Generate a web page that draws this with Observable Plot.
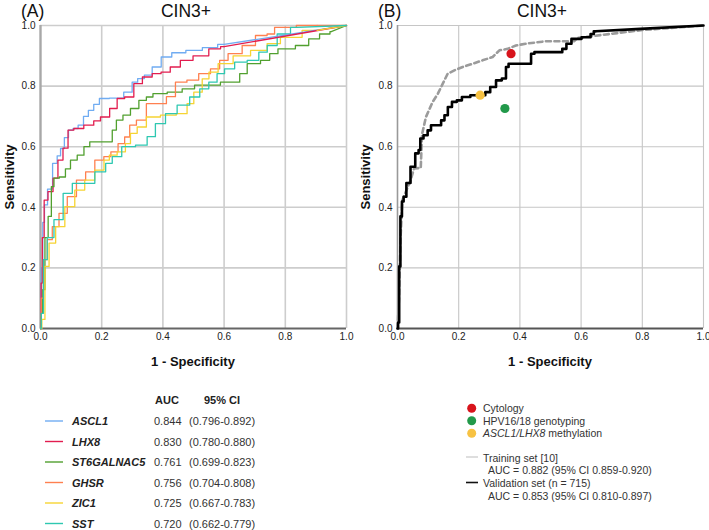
<!DOCTYPE html>
<html><head><meta charset="utf-8">
<script src="https://cdn.jsdelivr.net/npm/d3@7"></script>
<script src="https://cdn.jsdelivr.net/npm/@observablehq/plot@0.6"></script>
<style>
body{margin:0;background:#fff;}
#wrap{position:relative;width:709px;height:530px;overflow:hidden;background:#fff;font-family:"Liberation Sans",Arial,Helvetica,sans-serif;}
#wrap > .p{position:absolute;top:0;}
#ov{position:absolute;left:0;top:0;}
</style></head><body><div id="wrap"></div>
<script>
// ---------- Panel A data ----------
const markers = ["ASCL1","LHX8","ST6GALNAC5","GHSR","ZIC1","SST"];
const markerColors = ["#70acf2","#e21d4f","#51a02f","#ff8050","#f6d433","#2ec8b1"];
const aucValues = ["0.844","0.830","0.761","0.756","0.725","0.720"];
const ciValues = ["(0.796-0.892)","(0.780-0.880)","(0.699-0.823)","(0.704-0.808)","(0.667-0.783)","(0.662-0.779)"];

const ascl1X = [0,0.005,0.01,0.016,0.03,0.049,0.06,0.071,0.085,0.098,0.115,0.131,0.15,0.163,0.185,0.2,0.25,0.294,0.305,0.33,0.349,0.381,0.408,0.45,0.5,0.558,0.6];
const ascl1Y = [0,0.2,0.35,0.408,0.46,0.545,0.57,0.594,0.63,0.655,0.66,0.671,0.70,0.72,0.74,0.759,0.76,0.78,0.813,0.825,0.836,0.863,0.896,0.91,0.918,0.927,0.9375];
const lhx8X = [0,0.004,0.008,0.016,0.033,0.049,0.065,0.082,0.098,0.12,0.163,0.185,0.207,0.245,0.256,0.294,0.316,0.35,0.38,0.408,0.44,0.474,0.523,0.577,0.6];
const lhx8Y = [0,0.15,0.3,0.424,0.452,0.496,0.556,0.595,0.655,0.66,0.671,0.685,0.698,0.726,0.759,0.764,0.808,0.83,0.841,0.846,0.863,0.885,0.90,0.923,0.93];
const st6X = [0,0.005,0.009,0.02,0.03,0.041,0.047,0.076,0.087,0.109,0.131,0.153,0.169,0.229,0.24,0.256,0.283,0.305,0.338,0.354,0.381,0.447,0.479,0.528,0.648,0.654,0.697,0.741,0.757,0.795,0.871,0.882,0.942,0.95];
const st6Y = [0,0.05,0.128,0.30,0.37,0.468,0.496,0.50,0.527,0.556,0.572,0.60,0.616,0.616,0.655,0.688,0.704,0.726,0.753,0.764,0.775,0.78,0.791,0.803,0.813,0.841,0.874,0.885,0.907,0.923,0.934,0.956,0.972,0.98];
const ghsrX = [0,0.005,0.014,0.03,0.047,0.074,0.101,0.134,0.161,0.194,0.22,0.24,0.267,0.283,0.3,0.327,0.365,0.398,0.425,0.457,0.5,0.534,0.577,0.594,0.632,0.686,0.719,0.762,0.768,0.904];
const ghsrY = [0,0.1,0.227,0.293,0.336,0.38,0.435,0.49,0.517,0.556,0.567,0.583,0.61,0.632,0.671,0.688,0.742,0.742,0.765,0.813,0.82,0.841,0.857,0.885,0.907,0.934,0.967,0.972,0.994,1.0];
const zic1X = [0,0.009,0.02,0.036,0.063,0.096,0.128,0.161,0.194,0.221,0.229,0.272,0.283,0.305,0.327,0.365,0.419,0.468,0.49,0.512,0.545,0.556,0.605,0.654,0.719,0.762,0.806,0.904];
const zic1Y = [0,0.03,0.205,0.282,0.336,0.402,0.457,0.49,0.523,0.556,0.572,0.583,0.61,0.644,0.665,0.698,0.704,0.709,0.742,0.78,0.824,0.846,0.874,0.90,0.918,0.94,0.961,0.984];
const sstX = [0,0.005,0.014,0.03,0.058,0.09,0.118,0.15,0.205,0.221,0.248,0.283,0.338,0.359,0.392,0.425,0.468,0.507,0.534,0.566,0.588,0.615,0.654,0.697,0.73,0.752,0.795,0.839];
const sstY = [0,0.05,0.227,0.30,0.359,0.446,0.479,0.479,0.517,0.545,0.567,0.60,0.605,0.633,0.676,0.709,0.737,0.764,0.791,0.813,0.841,0.857,0.879,0.885,0.912,0.934,0.972,0.994];

// ---------- Panel B data ----------
const validX = [0,0.004,0.007,0.012,0.017,0.023,0.035,0.05,0.066,0.072,0.077,0.093,0.104,0.115,0.137,0.148,0.159,0.17,0.186,0.202,0.219,0.257,0.279,0.295,0.311,0.333,0.349,0.36,0.366,0.431,0.442,0.453,0.533,0.544,0.56,0.577,0.626,0.636,0.647];
const validY = [0,0.02,0.205,0.37,0.419,0.435,0.48,0.534,0.578,0.589,0.627,0.638,0.654,0.671,0.671,0.687,0.704,0.731,0.748,0.753,0.764,0.77,0.77,0.78,0.797,0.819,0.825,0.863,0.874,0.874,0.907,0.912,0.912,0.923,0.94,0.956,0.961,0.972,0.981];
const validTailX = [0.647,0.794,1];
const validTailY = [0.981,0.989,1];
const trainX = [0,0.005,0.01,0.016,0.043,0.054,0.076,0.08,0.093,0.115,0.132,0.148,0.164,0.186,0.213,0.246,0.278,0.311,0.333,0.36,0.387,0.42,0.485,0.577,0.588,0.8,1];
const trainY = [0,0.1,0.3,0.424,0.49,0.528,0.53,0.64,0.698,0.748,0.775,0.808,0.841,0.852,0.863,0.874,0.885,0.896,0.918,0.923,0.934,0.94,0.948,0.948,0.959,0.985,1];
const testNames = ["Cytology","HPV16/18 genotyping","ASCL1/LHX8 methylation"];
const testColors = ["#d8141c","#22994a","#f7c243"];
const testX = [0.371,0.351,0.27];
const testY = [0.907,0.726,0.77];

// ---------- build tables ----------
const seriesX = [ascl1X,lhx8X,st6X,ghsrX,zic1X,sstX];
const seriesY = [ascl1Y,lhx8Y,st6Y,ghsrY,zic1Y,sstY];
const rowsA = [], tailsA = [];
markers.forEach((m,i)=>{
  seriesX[i].forEach((x,j)=>rowsA.push({k:m,x,y:seriesY[i][j]}));
  const n = seriesX[i].length-1;
  tailsA.push({k:m,x:seriesX[i][n],y:seriesY[i][n]});
  tailsA.push({k:m,x:1,y:1});
});
const validRows = validX.map((x,i)=>({x,y:validY[i]}));
const validTail = validTailX.map((x,i)=>({x,y:validTailY[i]}));
const trainRows = trainX.map((x,i)=>({x,y:trainY[i]}));
const testRows = testNames.map((k,i)=>({k,x:testX[i],y:testY[i]}));

const ticks = [0,0.2,0.4,0.6,0.8,1.0];
const gridTicks = [0.2,0.4,0.6,0.8,1.0];
const font = '"Liberation Sans",Arial,Helvetica,sans-serif';

function frame(ml, mr, gw, gc, leftC, leftW, botC, botW, marks, color){
  return Plot.plot({
    width:354, height:345, marginTop:25, marginBottom:17, marginLeft:ml, marginRight:mr,
    x:{domain:[0,1]}, y:{domain:[0,1]},
    color,
    style:{fontFamily:font, fontSize:"10px", color:"#222", background:"transparent", overflow:"visible"},
    marks:[
      Plot.gridX(gridTicks,{stroke:gc,strokeOpacity:1,strokeWidth:gw}),
      Plot.gridY(gridTicks,{stroke:gc,strokeOpacity:1,strokeWidth:gw}),
      Plot.ruleX([0],{stroke:leftC,strokeWidth:leftW}),
      Plot.ruleY([0],{stroke:botC,strokeWidth:botW}),
      ...marks,
      Plot.axisX(ticks,{tickSize:0,tickPadding:4,tickFormat:d3.format(".1f"),label:null,fill:"#222"}),
      Plot.axisY(ticks,{tickSize:0,tickPadding:5,tickFormat:d3.format(".1f"),label:null,fill:"#222"})
    ]
  });
}

const wrap = document.getElementById("wrap");
const pA = frame(40,8,1.6,"#cdcdcd","#a8a8a8",2.4,"#666",2,[
  Plot.line(rowsA,{x:"x",y:"y",z:"k",stroke:"k",curve:"step",strokeWidth:1.3}),
  Plot.line(tailsA,{x:"x",y:"y",z:"k",stroke:"k",strokeWidth:1.3})
],{domain:markers,range:markerColors});
pA.classList.add("p"); pA.style.left="0px";
wrap.appendChild(pA);

const pB = frame(42,6,1.1,"#c6c6c6","#999",1.6,"#555",2,[
  Plot.line(trainRows,{x:"x",y:"y",stroke:"#9b9b9b",strokeWidth:2.6,strokeDasharray:"5,3.5"}),
  Plot.line(validRows,{x:"x",y:"y",stroke:"#000",strokeWidth:2.6,curve:"step"}),
  Plot.line(validTail,{x:"x",y:"y",stroke:"#000",strokeWidth:2.6}),
  Plot.dot(testRows,{x:"x",y:"y",fill:"k",r:4.6})
],{domain:testNames,range:testColors});
pB.classList.add("p"); pB.style.left="355px";
wrap.appendChild(pB);

// ---------- text overlay: titles, axis labels, legends ----------
const ov = d3.select(wrap).append("svg").attr("id","ov").attr("width",709).attr("height",530)
  .style("font-family",font).style("overflow","hidden");
function t(x,y,s,opt={}){
  const e = ov.append("text").attr("x",x).attr("y",y).text(s)
    .attr("font-size",opt.size||11).attr("fill",opt.fill||"#222")
    .attr("text-anchor",opt.anchor||"start");
  if(opt.bold) e.attr("font-weight","bold");
  if(opt.italic) e.attr("font-style","italic");
  if(opt.rot) e.attr("transform",`rotate(-90 ${x} ${y})`);
  return e;
}
// titles
t(21,17,"(A)",{size:17.5,fill:"#111"});
t(186,17,"CIN3+",{size:17.5,anchor:"middle",fill:"#111"});
t(378,17,"(B)",{size:17.5,fill:"#111"});
t(542,17,"CIN3+",{size:17.5,anchor:"middle",fill:"#111"});
// axis labels
t(14,177,"Sensitivity",{size:13,bold:true,anchor:"middle",rot:true,fill:"#111"});
t(370,177,"Sensitivity",{size:13,bold:true,anchor:"middle",rot:true,fill:"#111"});
t(193,366,"1 - Specificity",{size:13,bold:true,anchor:"middle",fill:"#111"});
t(550,366,"1 - Specificity",{size:13,bold:true,anchor:"middle",fill:"#111"});

// legend A
t(167,404,"AUC",{size:11,bold:true,anchor:"middle"});
t(222,404,"95% CI",{size:11,bold:true,anchor:"middle"});
markers.forEach((m,i)=>{
  const yb = 425 + i*20.5;
  ov.append("line").attr("x1",45).attr("x2",63).attr("y1",yb-4).attr("y2",yb-4)
    .attr("stroke",markerColors[i]).attr("stroke-width",1.4);
  t(72,yb,m,{size:11,bold:true,italic:true});
  t(154,yb,aucValues[i],{size:11,fill:"#333"});
  t(189,yb,ciValues[i],{size:11,fill:"#333"});
});

// legend B
const dotY = [408.3,420.7,433.3];
testNames.forEach((n,i)=>{
  ov.append("circle").attr("cx",471.7).attr("cy",dotY[i]).attr("r",4.5).attr("fill",testColors[i]);
});
t(483,412,"Cytology",{size:10.5,fill:"#333"});
t(483,424.5,"HPV16/18 genotyping",{size:10.5,fill:"#333"});
const lm = t(483,437,"",{size:10.5,fill:"#333"});
lm.append("tspan").attr("font-style","italic").text("ASCL1/LHX8");
lm.append("tspan").text(" methylation");
ov.append("line").attr("x1",466).attr("x2",478).attr("y1",457).attr("y2",457).attr("stroke","#c8c8c8").attr("stroke-width",1.2);
t(483,461.5,"Training set [10]",{size:10.5,fill:"#333"});
t(488,473.5,"AUC = 0.882 (95% CI 0.859-0.920)",{size:10.5,fill:"#333"});
ov.append("line").attr("x1",466).attr("x2",478).attr("y1",482.5).attr("y2",482.5).attr("stroke","#111").attr("stroke-width",1.6);
t(483,486.5,"Validation set (n = 715)",{size:10.5,fill:"#333"});
t(488,500,"AUC = 0.853 (95% CI 0.810-0.897)",{size:10.5,fill:"#333"});
</script></body></html>
